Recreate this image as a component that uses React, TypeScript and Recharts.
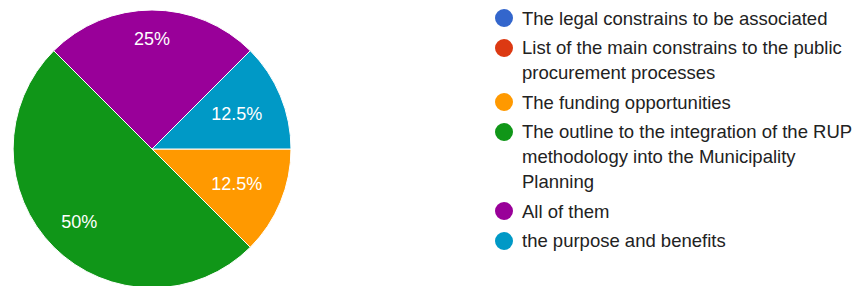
import { Cell, Legend, Pie, PieChart } from 'recharts';

const options = [
    'The legal constrains to be associated',
    'List of the main constrains to the public procurement processes',
    'The funding opportunities',
    'The outline to the integration of the RUP methodology into the Municipality Planning',
    'All of them',
    'the purpose and benefits',
];
const responses = [0, 0, 1, 4, 2, 1];
const colors = ['#3366cc', '#dc3912', '#ff9900', '#109618', '#990099', '#0099c6'];

const data = options.map((name, i) => ({ name, value: responses[i] }));

const RADIAN = Math.PI / 180;
const FONT = "'Liberation Sans', Arial, sans-serif";

// google places small-slice labels nearer the centre
const labelFactor = (percent: number) => (percent < 0.2 ? 0.66 : percent < 0.3 ? 0.79 : 0.74);

const renderLabel = (props: any) => {
    const { cx, cy, midAngle, outerRadius, percent } = props;
    if (!percent) return null;
    const r = outerRadius * labelFactor(percent);
    const x = cx + r * Math.cos(-midAngle * RADIAN);
    const y = cy + r * Math.sin(-midAngle * RADIAN);
    return (
        <text
            x={x}
            y={y}
            fill="#ffffff"
            textAnchor="middle"
            dominantBaseline="central"
            fontSize={18}
            fontFamily={FONT}
        >
            {`${+(percent * 100).toFixed(1)}%`}
        </text>
    );
};

const renderLegend = () => (
    <div style={{ fontFamily: FONT, fontSize: 18.5, color: '#222222' }}>
        {data.map((d, i) => (
            <div key={d.name} style={{ display: 'flex', marginBottom: 4.5, lineHeight: '25px' }}>
                <span
                    style={{
                        width: 18,
                        height: 18,
                        borderRadius: '50%',
                        background: colors[i],
                        marginTop: 3.5,
                        marginRight: 9,
                        flexShrink: 0,
                    }}
                />
                <span style={{ width: 335 }}>{d.name}</span>
            </div>
        ))}
    </div>
);

export default function App() {
    return (
        <>
            <style>{'body { margin: 0; }'}</style>
            <PieChart width={857} height={286} margin={{ top: 0, right: 0, bottom: 0, left: 0 }}>
                <Pie
                    data={data}
                    dataKey="value"
                    nameKey="name"
                    cx={152}
                    cy={149}
                    outerRadius={139}
                    startAngle={0}
                    endAngle={-360}
                    stroke="#ffffff"
                    strokeWidth={1}
                    label={renderLabel}
                    labelLine={false}
                    isAnimationActive={false}
                >
                    {data.map((d, i) => (
                        <Cell key={d.name} fill={colors[i]} />
                    ))}
                </Pie>
                <Legend
                    content={renderLegend}
                    layout="vertical"
                    verticalAlign="top"
                    align="right"
                    wrapperStyle={{ left: 495, top: 5.5, width: 362 }}
                />
            </PieChart>
        </>
    );
}
